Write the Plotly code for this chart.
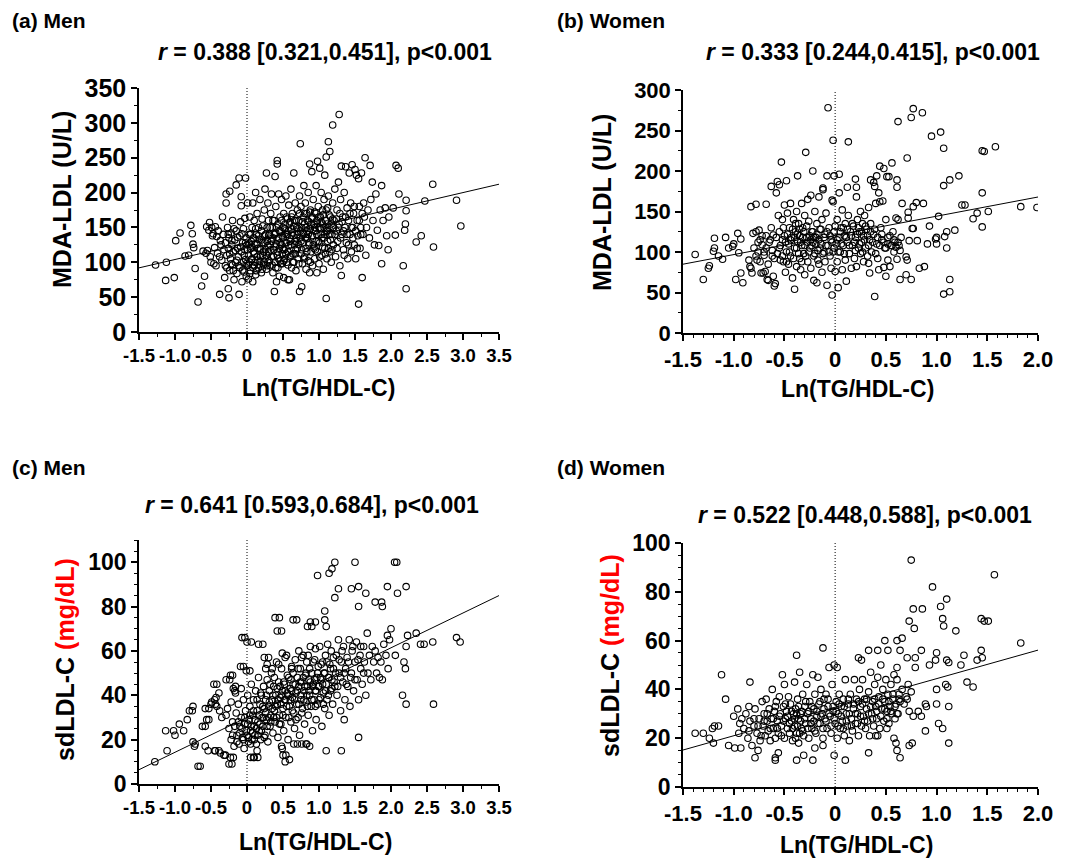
import plotly.graph_objects as go

# ---------------- DATA ----------------
# (a) Men: Ln(TG/HDL-C) vs MDA-LDL (U/L)
a_pts = [(-1.27,96),(-1.13,74),(-1.12,100),(-1.01,78),(-0.99,131),(-0.93,142),(-0.86,109),(-0.81,110),(-0.78,153),(-0.76,141),(-0.75,126),(-0.74,121),(-0.72,91),(-0.68,43),(-0.63,66),(-0.61,116),(-0.59,80),
(-0.57,113),(-0.56,151),(-0.55,117),(-0.53,146),(-0.52,157),(-0.51,108),(-0.50,100),(-0.49,150),(-0.48,138),(-0.47,141),(-0.46,98),(-0.45,121),(-0.44,151),(-0.43,95),(-0.42,137),(-0.41,113),(-0.40,145),(-0.38,54),(-0.38,108),(-0.37,131),(-0.36,125),(-0.35,103),(-0.34,165),(-0.33,140),(-0.32,118),(-0.31,78),(-0.30,95),(-0.30,128),
(-0.29,198),(-0.29,185),(-0.28,110),(-0.27,150),(-0.26,62),(-0.26,120),(-0.25,49),(-0.25,135),(-0.24,202),(-0.24,88),(-0.23,105),(-0.22,142),(-0.21,125),(-0.20,96),(-0.20,160),(-0.19,115),(-0.18,75),(-0.17,132),(-0.16,100),(-0.15,211),(-0.15,145),(-0.14,84),(-0.13,120),(-0.12,108),(-0.11,221),(-0.11,54),(-0.10,138),(-0.10,92),(-0.09,158),(-0.08,194),(-0.08,181),(-0.08,115),(-0.07,72),(-0.06,128),(-0.05,100),(-0.05,148),(-0.04,86),(-0.03,118),(-0.03,163),(-0.02,221),(-0.02,104),(-0.01,80),(-0.01,135),(0.0,95),(0.0,125),
(0.01,185),(0.02,110),(0.02,76),(0.03,140),(0.04,100),(0.04,165),(0.05,120),(0.05,88),(0.06,130),(0.07,105),(0.07,150),(0.08,72),(0.08,185),(0.09,115),(0.10,95),(0.10,160),(0.11,125),(0.12,200),(0.12,82),(0.13,140),(0.14,108),(0.14,170),(0.15,120),(0.16,92),(0.16,150),(0.17,133),(0.18,101),(0.18,190),(0.19,118),(0.20,85),(0.20,145),(0.21,162),(0.22,110),(0.22,128),(0.23,96),(0.24,175),(0.24,138),(0.25,105),(0.25,205),(0.26,118),(0.27,228),(0.27,90),(0.28,150),(0.28,130),(0.29,100),(0.29,185),(0.30,115),(0.30,160),
(0.31,140),(0.32,95),(0.32,125),(0.33,170),(0.34,108),(0.34,198),(0.35,150),(0.36,85),(0.36,135),(0.37,118),(0.38,58),(0.38,160),(0.39,223),(0.39,100),(0.40,142),(0.40,180),(0.41,72),(0.41,126),(0.42,246),(0.42,241),(0.42,110),(0.43,155),(0.43,92),(0.44,198),(0.44,135),(0.45,120),(0.45,80),(0.46,165),(0.46,102),(0.47,145),(0.48,125),(0.48,190),(0.49,98),(0.49,112),(0.50,150),(0.50,135),(0.51,78),(0.51,170),(0.52,118),(0.52,105),(0.53,155),(0.54,140),(0.54,195),(0.55,100),(0.55,128),(0.56,162),(0.57,115),(0.57,75),(0.58,145),(0.58,182),(0.59,135),(0.59,75),(0.60,108),(0.60,158),
(0.61,205),(0.61,125),(0.62,92),(0.62,148),(0.63,170),(0.64,112),(0.64,138),(0.65,228),(0.65,100),(0.66,160),(0.67,130),(0.67,185),(0.68,118),(0.68,88),(0.69,150),(0.70,140),(0.70,175),(0.71,105),(0.72,160),(0.72,125),(0.73,58),(0.73,195),(0.74,270),(0.74,135),(0.75,112),(0.75,180),(0.76,150),(0.76,65),(0.77,98),(0.78,165),(0.78,128),(0.79,210),(0.79,140),(0.80,108),(0.80,155),(0.81,185),(0.82,120),(0.82,90),(0.83,170),(0.83,145),(0.84,135),(0.85,200),(0.85,102),(0.86,158),(0.86,125),(0.87,241),(0.87,85),(0.88,175),(0.88,148),(0.89,115),(0.90,230),(0.90,162),
(0.91,138),(0.91,95),(0.92,190),(0.93,155),(0.93,120),(0.94,172),(0.94,105),(0.95,145),(0.96,210),(0.96,130),(0.97,160),(0.97,85),(0.98,245),(0.98,115),(0.99,180),(1.00,150),(1.00,98),(1.01,235),(1.01,128),(1.02,165),(1.03,140),(1.03,200),(1.04,110),(1.05,175),(1.05,155),(1.06,90),(1.07,135),(1.07,190),(1.08,225),(1.08,120),(1.09,160),(1.10,251),(1.10,48),(1.10,145),(1.11,105),(1.12,178),(1.12,130),(1.13,273),(1.13,195),(1.14,150),(1.15,259),(1.15,115),(1.16,165),(1.17,100),(1.18,140),(1.19,297),(1.19,185),(1.20,125),
(1.21,160),(1.22,205),(1.23,108),(1.24,145),(1.25,175),(1.26,130),(1.27,215),(1.28,312),(1.28,155),(1.29,95),(1.30,190),(1.31,238),(1.31,81),(1.32,140),(1.33,165),(1.34,118),(1.35,200),(1.36,150),(1.37,237),(1.38,128),(1.39,178),(1.40,105),(1.41,160),(1.42,228),(1.43,140),(1.44,185),(1.45,115),(1.46,240),(1.47,150),(1.48,170),(1.49,125),(1.50,233),
(1.51,105),(1.52,225),(1.53,160),(1.54,138),(1.55,40),(1.55,220),(1.56,180),(1.57,120),(1.58,150),(1.59,228),(1.60,78),(1.61,140),(1.62,185),(1.63,165),(1.64,250),(1.65,110),(1.66,150),(1.68,175),(1.70,135),(1.71,239),(1.72,190),(1.74,215),(1.75,160),(1.77,125),(1.79,198),(1.81,146),(1.83,124),(1.85,175),(1.87,210),(1.87,98),(1.89,160),(1.92,178),(1.94,138),(1.96,118),(1.97,165),
(2.03,178),(2.06,139),(2.07,239),(2.10,235),(2.11,198),(2.17,95),(2.19,146),(2.20,155),(2.21,189),(2.21,174),(2.21,62),(2.35,129),(2.42,138),(2.47,188),(2.58,212),(2.59,122),(2.91,189),(2.97,152)]
a_core = [(-0.28,92),(-0.26,140),(-0.24,112),(-0.22,98),(-0.21,131),(-0.19,88),(-0.18,148),(-0.16,117),(-0.14,103),(-0.13,136),(-0.11,95),(-0.09,122),(-0.07,141),(-0.06,89),(-0.04,110),(-0.02,128),(-0.01,98),(0.01,118),(0.02,96),(0.03,126),(0.04,84),(0.05,140),(0.06,104),(0.07,122),(0.08,93),(0.09,135),(0.10,112),(0.11,100),(0.12,148),(0.13,88),(0.14,126),(0.15,103),(0.16,138),(0.17,96),(0.18,120),(0.19,108),(0.20,132),(0.21,90),(0.22,152),(0.23,115),(0.24,100),(0.25,128),(0.26,140),(0.27,110),(0.28,95),(0.29,124),(0.30,138),(0.31,102),(0.32,150),(0.33,118),(0.34,130),(0.35,96),(0.36,160),(0.37,108),(0.38,140),(0.39,122),(0.40,92),(0.41,150),(0.42,132),(0.43,115),(0.44,105),(0.45,145),(0.46,128),(0.47,98),(0.48,160),(0.49,138),(0.50,118),(0.51,102),(0.52,148),(0.53,128),(0.54,112),(0.55,165),(0.56,140),(0.57,96),(0.58,124),(0.59,155),(0.60,130),(0.61,110),(0.62,165),(0.63,142),(0.64,100),(0.65,152),(0.66,125),(0.67,112),(0.68,160),(0.69,135),(0.70,120),(0.71,148),(0.72,98),(0.73,170),(0.74,145),(0.75,130),(0.76,118),(0.77,158),(0.78,142),(0.79,105),(0.80,170),(0.81,135),(0.82,150),(0.83,115),(0.84,160),(0.85,140),(0.86,128),(0.87,172),(0.88,100),(0.89,155),(0.90,138),(0.91,165),(0.92,125),(0.93,145),(0.94,150),(0.95,118),(0.96,170),(0.97,140),(0.98,155),(0.99,130),(1.00,165),(1.01,108),(1.02,148),(1.03,158),(1.04,135),(1.05,122),(1.06,168),(1.07,150),(1.08,140),(1.09,112),(1.10,175),(1.11,155),(1.12,145),(1.13,120),(1.14,168),(1.15,140),(1.16,132),(1.17,155),(1.18,118),(1.19,162),(1.20,150),(1.22,140),(1.24,162),(1.25,120),(1.27,150),(1.29,170),(1.30,135),(1.32,158),(1.34,145),(1.35,110),(1.37,165),(1.39,140),(1.41,125),(1.43,170),(1.45,150),(1.47,135),(1.49,180),(1.51,145),(1.53,120),(1.56,160),(1.58,140),(1.60,170)]

# (b) Women: Ln(TG/HDL-C) vs MDA-LDL (U/L)
b_pts = [(-1.38,97),(-1.30,66),(-1.25,80),(-1.24,83),(-1.19,117),(-1.20,101),(-1.19,105),(-1.15,95),(-1.11,91),(-1.08,118),(-1.05,105),(-1.01,107),(-1.00,110),(-0.98,66),(-0.96,123),
(-0.95,99),(-0.93,116),(-0.93,74),(-0.91,62),(-0.85,90),(-0.84,82),(-0.83,156),(-0.83,80),(-0.82,74),(-0.81,123),(-0.78,159),(-0.78,125),(-0.77,90),(-0.76,100),(-0.75,127),(-0.74,115),(-0.73,74),(-0.72,109),(-0.71,74),(-0.70,100),(-0.69,76),(-0.68,159),(-0.68,120),(-0.67,66),(-0.66,65),(-0.65,112),(-0.63,181),(-0.63,130),(-0.62,95),(-0.61,70),(-0.61,121),(-0.60,58),(-0.59,61),
(-0.58,173),(-0.57,187),(-0.56,145),(-0.55,183),(-0.55,105),(-0.54,90),(-0.53,211),(-0.52,115),(-0.52,140),(-0.51,88),(-0.50,158),(-0.50,120),(-0.49,75),(-0.48,188),(-0.48,100),(-0.47,148),(-0.46,110),(-0.46,85),(-0.45,130),(-0.44,160),(-0.44,95),(-0.43,118),(-0.42,68),(-0.41,140),(-0.40,54),(-0.40,105),(-0.39,125),(-0.38,150),(-0.38,82),(-0.37,194),(-0.37,113),(-0.36,135),(-0.35,92),(-0.35,120),(-0.34,78),(-0.33,160),(-0.33,108),(-0.32,130),(-0.31,98),(-0.30,145),(-0.30,72),
(-0.29,223),(-0.28,118),(-0.27,165),(-0.27,88),(-0.26,138),(-0.25,105),(-0.24,170),(-0.24,80),(-0.23,125),(-0.22,200),(-0.22,112),(-0.21,95),(-0.21,65),(-0.20,150),(-0.19,118),(-0.18,62),(-0.18,135),(-0.17,102),(-0.16,168),(-0.16,85),(-0.15,128),(-0.14,110),(-0.13,140),(-0.13,75),(-0.12,179),(-0.12,177),(-0.11,100),(-0.10,122),(-0.10,88),(-0.09,148),(-0.08,194),(-0.08,59),(-0.07,278),(-0.07,108),(-0.06,130),(-0.05,95),(-0.04,115),(-0.04,80),(-0.03,164),(-0.03,47),(-0.02,238),(-0.02,162),(-0.02,100),(-0.01,194),(-0.01,125),(0.0,76),
(0.01,110),(0.02,140),(0.02,88),(0.03,56),(0.04,196),(0.04,173),(0.04,118),(0.05,100),(0.06,130),(0.07,78),(0.07,152),(0.08,108),(0.09,120),(0.10,90),(0.10,135),(0.11,64),(0.12,180),(0.12,112),(0.13,236),(0.13,145),(0.14,98),(0.15,125),(0.16,80),(0.17,108),(0.18,132),(0.19,92),(0.20,190),(0.20,118),(0.21,180),(0.21,168),(0.21,82),(0.22,140),(0.23,105),(0.24,125),(0.25,150),(0.25,98),(0.26,112),(0.27,135),(0.28,88),(0.28,120),(0.29,145),(0.30,105),
(0.31,128),(0.32,95),(0.33,86),(0.33,155),(0.34,74),(0.34,115),(0.35,189),(0.35,135),(0.36,100),(0.38,186),(0.38,122),(0.39,181),(0.39,45),(0.40,160),(0.41,194),(0.41,110),(0.42,92),(0.43,173),(0.43,78),(0.44,206),(0.44,162),(0.45,130),(0.46,115),(0.47,163),(0.48,203),(0.48,81),(0.49,105),(0.50,70),(0.50,140),(0.51,193),(0.52,90),(0.52,118),(0.53,193),(0.54,82),(0.55,108),(0.56,210),(0.57,125),(0.58,100),(0.59,112),(0.60,142),
(0.61,189),(0.61,180),(0.61,91),(0.62,261),(0.62,140),(0.63,108),(0.64,66),(0.65,118),(0.66,160),(0.70,72),(0.70,94),(0.71,90),(0.71,216),(0.72,149),(0.72,142),(0.73,114),(0.75,266),(0.75,66),(0.76,129),(0.77,277),(0.77,156),(0.77,129),(0.80,161),(0.81,114),(0.83,80),(0.86,272),(0.87,160),(0.88,82),(0.91,110),(0.93,132),(0.95,243),
(0.99,116),(1.00,118),(1.00,110),(1.02,144),(1.04,248),(1.07,228),(1.07,182),(1.07,48),(1.08,119),(1.10,125),(1.10,105),(1.13,189),(1.13,66),(1.13,51),(1.18,127),(1.22,194),(1.25,158),(1.28,158),(1.36,141),(1.40,148),(1.45,225),(1.45,173),(1.45,131),(1.47,224),(1.51,150),(1.58,230),(1.83,156),(1.99,155)]
b_core = [(-0.80,105),(-0.78,95),(-0.76,112),(-0.74,88),(-0.72,120),(-0.70,96),(-0.68,105),(-0.66,85),(-0.64,115),(-0.62,102),(-0.60,92),(-0.58,118),(-0.57,98),(-0.55,125),(-0.54,108),(-0.52,95),(-0.51,130),(-0.49,112),(-0.48,88),(-0.47,122),(-0.45,100),(-0.44,115),(-0.42,128),(-0.41,92),(-0.40,118),(-0.39,135),(-0.38,105),(-0.37,122),(-0.36,98),(-0.35,128),(-0.34,112),(-0.33,88),(-0.32,118),(-0.31,125),(-0.30,108),(-0.29,95),(-0.28,132),(-0.27,112),(-0.26,100),(-0.25,120),(-0.24,115),(-0.23,108),(-0.22,125),(-0.21,118),(-0.20,98),(-0.19,110),(-0.18,122),(-0.17,90),(-0.16,115),(-0.15,105),(-0.14,128),(-0.12,98),(-0.11,118),(-0.09,108),(-0.08,125),(-0.06,100),(-0.05,120),(-0.03,112),(-0.01,105),(0.0,132),(0.02,115),(0.03,100),(0.05,125),(0.06,110),(0.08,130),(0.09,98),(0.11,118),(0.12,128),(0.14,108),(0.16,120),(0.17,135),(0.19,112),(0.20,102),(0.22,122),(0.23,130),(0.24,110),(0.26,125),(0.27,100),(0.29,115),(0.30,132),(0.32,120),(0.33,108),(0.35,125),(0.37,112),(0.39,128),(0.40,98),(0.42,118),(0.44,108),(0.46,122),(0.48,112),(0.50,105),(0.52,110),(0.54,120),(0.56,108),(0.58,115),(0.60,106),(0.62,112),(0.64,102)]

# (c) Men: Ln(TG/HDL-C) vs sdLDL-C (mg/dL)
c_pts = [(-1.28,10),(-1.11,15),(-1.13,24),(-1.02,24),(-1.0,22),(-0.94,27),(-0.88,24),(-0.83,29),(-0.80,33),(-0.75,35),(-0.76,33),(-0.75,19),(-0.73,17),(-0.68,8),(-0.62,26),(-0.58,17),(-0.56,29),(-0.53,29),(-0.58,34),(-0.50,36),(-0.46,45),(-0.45,38),(-0.45,15),(-0.39,41),(-0.42,35),(-0.37,14),(-0.29,47),(-0.23,49),(-0.25,9),(-0.23,12),(-0.19,43),(-0.16,41),(-0.09,53),(-0.07,66),(0.0,64),(-0.01,51),(-0.08,43),(0.16,63),(0.05,12),(0.10,12),(0.14,15),(0.24,57),(0.26,52),(0.39,75),(0.42,69),(0.64,74),(0.53,10),(0.50,13),(0.48,17),(0.65,18),(0.76,18),(0.82,18),(0.84,71),(0.88,73),(0.98,94),(1.14,95),(1.18,97),(1.22,100),(1.27,88),(1.22,84),(1.08,78),(1.08,74),(1.10,71),(1.10,15),(1.31,15),(1.50,100),(1.45,88),(1.55,89),(1.55,80),(1.65,86),(1.78,82),(1.87,82),(1.88,80),(2.05,100),(2.08,100),(2.09,86),(1.95,89),(2.21,89),(2.0,70),(1.95,67),(2.06,58),(2.18,55),(2.20,52),(2.23,67),(2.21,62),(2.35,68),(2.41,63),(2.46,63),(2.58,64),(2.91,66),(2.96,64),(2.16,40),(2.21,36),(2.59,36),(1.55,21),(1.35,29),
(-0.58,26),(-0.53,34),(-0.49,37),(-0.44,36),(-0.43,39),(-0.38,33),(-0.35,30),(-0.29,31),(-0.27,34),(-0.22,37),(-0.17,42),(-0.16,44),(-0.42,45),(-0.24,47),(-0.20,49),(-0.05,53),(0.04,51),(-0.03,66),(0.06,64),(0.22,63),(0.45,75),(0.69,74),(0.90,71),(0.95,73),(0.48,69),(0.30,57),(0.28,54),(0.35,52),(0.44,54),(0.49,59),(0.53,57),(0.62,53),(0.72,60),(0.76,57),(0.85,58),(0.95,61),(-0.65,8),(-0.21,9),(-0.30,13),(-0.19,12),(0.09,12),(0.15,12),(0.49,16),(0.54,13),(0.59,11),(0.70,18),(0.83,18),(0.87,17),(-0.72,18),(-0.54,15),(-0.44,15),(-0.39,15),(-0.32,13),
(-0.25,25),(-0.22,20),(-0.20,28),(-0.18,17),(-0.15,32),(-0.14,22),(-0.12,36),(-0.11,18),(-0.10,26),(-0.08,30),(-0.06,21),(-0.05,38),(-0.04,16),(-0.03,27),(-0.02,33),(0.0,22),(0.01,40),(0.02,19),(0.03,29),(0.04,35),(0.05,24),(0.06,45),(0.07,20),(0.08,31),(0.09,38),(0.10,26),(0.11,22),(0.12,42),(0.13,18),(0.14,33),(0.15,28),(0.16,48),(0.17,24),(0.18,36),(0.19,20),(0.20,40),(0.21,30),(0.22,26),(0.23,44),(0.24,34),(0.25,22),(0.26,38),(0.27,29),(0.28,47),(0.29,19),(0.30,35),(0.31,42),(0.32,26),(0.33,31),(0.34,50),(0.35,38),(0.36,23),(0.37,44),(0.38,33),(0.39,28),(0.40,40),(0.41,55),(0.42,36),(0.43,21),(0.44,46),(0.45,31),(0.46,39),(0.47,27),(0.48,52),(0.49,42),(0.50,34),(0.51,24),(0.52,45),(0.53,38),(0.54,30),(0.55,58),(0.56,41),(0.57,20),(0.58,48),(0.59,35),(0.60,43),(0.61,28),(0.62,52),(0.63,39),(0.64,45),(0.65,32),(0.66,25),(0.67,56),(0.68,41),(0.69,36),(0.70,48),(0.71,30),(0.72,44),(0.73,22),(0.74,52),(0.75,38),(0.76,46),(0.77,34),(0.78,58),(0.79,42),(0.80,27),(0.81,49),(0.82,37),(0.83,55),(0.84,44),(0.85,31),(0.86,47),(0.87,40),(0.88,62),(0.89,35),(0.90,50),(0.91,24),(0.92,45),(0.93,38),(0.94,56),(0.95,42),(0.96,29),(0.97,48),(0.98,36),(0.99,53),(1.00,44),(1.01,62),(1.02,39),(1.03,47),(1.04,26),(1.05,55),(1.06,41),(1.07,50),(1.08,34),(1.09,58),(1.10,45),(1.11,38),(1.12,63),(1.13,48),(1.14,31),(1.15,54),(1.16,42),(1.17,60),(1.18,47),(1.19,36),(1.20,52),(1.22,44),(1.24,58),(1.25,40),(1.27,65),(1.28,50),(1.30,33),(1.31,55),(1.33,46),(1.34,62),(1.36,38),(1.37,52),(1.39,57),(1.40,44),(1.42,65),(1.43,35),(1.45,50),(1.46,60),(1.48,42),(1.50,55),(1.52,64),(1.53,47),(1.55,38),(1.57,58),(1.58,52),(1.60,45),(1.62,62),(1.63,55),(1.65,40),(1.67,68),(1.68,50),(1.70,58),(1.72,47),(1.74,62),(1.76,55),(1.78,60),(1.80,50),(1.82,57),(1.84,48),(1.86,55),(1.88,47),(1.90,63),(1.93,58),(1.96,52),(1.98,65)]
c_core = [(-0.20,22),(-0.17,26),(-0.14,19),(-0.12,28),(-0.10,23),(-0.07,25),(-0.05,20),(-0.03,30),(-0.01,24),(0.01,27),(0.02,21),(0.04,31),(0.05,18),(0.06,26),(0.08,23),(0.09,33),(0.10,20),(0.11,29),(0.13,25),(0.14,38),(0.15,22),(0.17,31),(0.18,27),(0.19,41),(0.20,24),(0.22,35),(0.23,30),(0.24,21),(0.26,32),(0.27,40),(0.28,26),(0.30,30),(0.31,37),(0.32,45),(0.33,28),(0.35,34),(0.36,40),(0.37,30),(0.38,48),(0.40,35),(0.41,30),(0.42,43),(0.43,38),(0.45,27),(0.46,44),(0.47,36),(0.48,40),(0.50,31),(0.51,46),(0.52,38),(0.53,42),(0.55,35),(0.56,49),(0.57,40),(0.58,30),(0.60,38),(0.61,47),(0.62,42),(0.63,33),(0.64,50),(0.66,38),(0.67,45),(0.68,29),(0.70,42),(0.71,52),(0.72,36),(0.74,46),(0.75,40),(0.76,32),(0.78,48),(0.79,38),(0.80,44),(0.82,50),(0.83,40),(0.84,35),(0.86,42),(0.87,52),(0.88,46),(0.90,38),(0.91,44),(0.92,55),(0.94,47),(0.95,35),(0.96,42),(0.98,50),(0.99,44),(1.00,38),(1.02,48),(1.03,54),(1.05,45),(1.06,36),(1.08,50),(1.09,42),(1.11,55),(1.13,40),(1.14,48),(1.16,52),(1.18,43),(1.20,57),(1.21,46),(1.23,50),(1.26,44),(1.28,56),(1.30,48),(1.32,60),(1.35,50),(1.38,45),(1.41,55),(1.44,48),(1.47,62),(1.50,47),(1.54,56),(1.58,62),(1.62,50)]

# (d) Women: Ln(TG/HDL-C) vs sdLDL-C (mg/dL)
d_pts = [(0.75,93),(1.57,87),(0.96,82),(1.10,77),(1.04,74),(0.77,73),(0.86,73),(0.73,68),(0.78,65),(1.06,69),(1.07,66),(1.19,64),(1.44,69),(1.47,68),(1.51,68),(1.83,59),(1.44,56),(1.45,53),(1.40,52),(1.27,54),(1.24,50),(1.10,52),(1.12,51),(1.00,55),(0.99,52),(0.93,50),(0.85,56),(0.79,53),(0.79,49),(0.71,53),(0.66,61),(0.64,56),(0.61,60),(0.61,49),(0.49,60),(0.52,56),(0.42,56),(0.33,56),(0.23,53),(0.26,52),(-0.12,57),(-0.38,54),(-1.12,46),(-1.08,36),(-0.84,43),(-0.85,33),(-0.96,32),(-1.0,29),(-0.92,28),(-0.94,26),(-1.15,25),(-1.19,25),(-1.21,24),(-1.38,22),(-1.30,22),(-1.24,20),(-1.20,18),(-1.05,17),(-0.99,16),(-0.93,16),(-0.95,22),(-0.79,12),(-0.76,15),(-0.59,12),(-0.59,11),(-0.56,14),(-0.38,11),(-0.31,13),(-0.22,11),(-0.20,16),(-0.12,17),(-0.01,13),(0.10,11),(0.33,14),(0.40,21),(0.42,21),(0.51,24),(0.58,20),(0.60,18),(0.61,15),(0.64,12),(0.73,17),(0.76,18),(0.89,23),(1.12,18),(1.06,24),(1.02,26),(1.00,34),(1.12,33),(0.89,34),(0.90,33),(1.00,40),(1.09,42),(1.11,41),(1.30,43),(1.36,41),(0.82,31),(0.85,29),(0.73,31),(0.77,29),(0.71,36),(0.75,39),(0.72,42),
(-0.90,24),(-0.88,30),(-0.86,20),(-0.84,27),(-0.82,17),(-0.80,25),(-0.79,32),(-0.77,22),(-0.75,28),(-0.74,19),(-0.72,35),(-0.71,25),(-0.70,30),(-0.69,21),(-0.68,36),(-0.67,27),(-0.66,23),(-0.65,32),(-0.64,19),(-0.63,28),(-0.62,40),(-0.61,24),(-0.60,31),(-0.59,20),(-0.58,35),(-0.57,27),(-0.56,22),(-0.55,37),(-0.54,30),(-0.53,25),(-0.52,46),(-0.51,33),(-0.50,20),(-0.50,42),(-0.49,28),(-0.48,31),(-0.47,24),(-0.46,37),(-0.45,22),(-0.44,34),(-0.43,27),(-0.42,19),(-0.41,30),(-0.40,43),(-0.40,25),(-0.39,32),(-0.38,22),(-0.37,36),(-0.36,28),(-0.36,18),(-0.35,47),(-0.34,30),(-0.33,24),(-0.32,38),(-0.31,21),(-0.30,33),(-0.29,26),(-0.28,42),(-0.27,30),(-0.26,20),(-0.25,35),(-0.24,28),(-0.23,24),(-0.22,46),(-0.21,32),(-0.20,38),(-0.19,22),(-0.18,29),(-0.17,45),(-0.16,34),(-0.15,26),(-0.14,40),(-0.13,30),(-0.12,20),(-0.11,36),(-0.10,28),(-0.09,38),(-0.08,24),(-0.07,33),(-0.06,49),(-0.05,29),(-0.04,22),(-0.03,42),(-0.02,31),(-0.01,50),(0.0,26),(0.01,35),(0.02,49),(0.02,20),(0.03,30),(0.04,38),(0.05,24),(0.06,33),(0.07,27),(0.08,36),(0.09,21),(0.10,44),(0.11,30),(0.12,25),(0.13,34),(0.14,19),(0.15,38),(0.16,28),(0.17,23),(0.18,32),(0.19,44),(0.20,26),(0.21,36),(0.22,30),(0.23,21),(0.24,40),(0.25,33),(0.26,25),(0.27,44),(0.28,29),(0.29,36),(0.30,24),(0.31,32),(0.32,27),(0.33,39),(0.34,21),(0.35,47),(0.36,30),(0.37,35),(0.38,25),(0.39,42),(0.40,33),(0.41,28),(0.42,45),(0.43,37),(0.44,24),(0.45,50),(0.46,32),(0.47,40),(0.48,27),(0.49,35),(0.50,44),(0.51,31),(0.52,38),(0.53,26),(0.54,33),(0.55,42),(0.56,30),(0.57,36),(0.58,46),(0.59,28),(0.60,34),(0.61,44),(0.62,30),(0.63,38),(0.64,35),(0.66,40),(0.68,34),(0.70,37)]
d_core = [(-0.85,23),(-0.80,28),(-0.76,25),(-0.73,21),(-0.70,27),(-0.67,30),(-0.64,24),(-0.61,28),(-0.59,33),(-0.57,24),(-0.55,29),(-0.53,21),(-0.51,27),(-0.49,34),(-0.47,29),(-0.45,26),(-0.43,31),(-0.42,24),(-0.40,28),(-0.39,20),(-0.38,30),(-0.37,25),(-0.36,33),(-0.35,22),(-0.34,27),(-0.33,31),(-0.32,23),(-0.30,28),(-0.29,35),(-0.27,24),(-0.26,31),(-0.24,26),(-0.23,33),(-0.21,27),(-0.20,23),(-0.18,31),(-0.17,26),(-0.15,35),(-0.14,29),(-0.12,24),(-0.11,32),(-0.09,27),(-0.07,36),(-0.06,30),(-0.04,25),(-0.02,33),(-0.01,28),(0.01,31),(0.03,25),(0.04,34),(0.06,29),(0.08,24),(0.09,33),(0.11,27),(0.13,36),(0.14,30),(0.16,25),(0.18,34),(0.20,30),(0.22,26),(0.23,35),(0.25,29),(0.27,34),(0.29,27),(0.31,36),(0.33,30),(0.35,33),(0.37,28),(0.39,36),(0.41,31),(0.43,34),(0.45,29),(0.47,36),(0.49,32),(0.51,28),(0.53,35),(0.55,31),(0.57,38),(0.59,33),(0.61,30),(0.63,36)]

# regression lines (intercept, slope)
a_fit = (128.0, 24.0)
b_fit = (120.5, 23.7)
c_fit = (30.0, 15.7)
d_fit = (32.7, 11.7)

men_xrange = [-1.5, 3.5]
women_xrange = [-1.5, 2.0]
men_xticks = [-1.5, -1.0, -0.5, 0, 0.5, 1.0, 1.5, 2.0, 2.5, 3.0, 3.5]
men_xlabels = ["-1.5", "-1.0", "-0.5", "0", "0.5", "1.0", "1.5", "2.0", "2.5", "3.0", "3.5"]
women_xticks = [-1.5, -1.0, -0.5, 0, 0.5, 1.0, 1.5, 2.0]
women_xlabels = ["-1.5", "-1.0", "-0.5", "0", "0.5", "1.0", "1.5", "2.0"]

panel_labels = ["(a) Men", "(b) Women", "(c) Men", "(d) Women"]
stat_texts = ["<i>r</i> = 0.388 [0.321,0.451], p&lt;0.001",
              "<i>r</i> = 0.333 [0.244,0.415], p&lt;0.001",
              "<i>r</i> = 0.641 [0.593,0.684], p&lt;0.001",
              "<i>r</i> = 0.522 [0.448,0.588], p&lt;0.001"]
y_titles = ["MDA-LDL (U/L)", "MDA-LDL (U/L)",
            "sdLDL-C <span style='color:#ff0000'>(mg/dL)</span>",
            "sdLDL-C <span style='color:#ff0000'>(mg/dL)</span>"]
x_title = "Ln(TG/HDL-C)"

# ---------------- FIGURE ----------------
# the page body has an 8px margin: the figure starts 8px in, so it is made
# 16px narrower and 8px shorter (reaching the bottom of the 858px window)
PAGE_W, PAGE_H, BODY = 1068, 858, 8
W, H = PAGE_W - 2 * BODY, PAGE_H - BODY
FONT = "Liberation Sans, Arial, Helvetica, sans-serif"

def fx(p):
    return (p - BODY) / W

def fy(p):
    return 1 - (p - BODY) / H

fig = go.Figure()

panels = [
    dict(pts=a_pts + a_core, fit=a_fit, xr=men_xrange, yr=[0, 350], ydt=50, ymin=25, xdt=0.25,
         xt=men_xticks, xl=men_xlabels, xd=[139, 499], yd=[88, 332], ytf=25, xtf=18.5),
    dict(pts=b_pts + b_core, fit=b_fit, xr=women_xrange, yr=[0, 300], ydt=50, ymin=25, xdt=0.1,
         xt=women_xticks, xl=women_xlabels, xd=[683, 1038], yd=[90, 333], ytf=22, xtf=22),
    dict(pts=c_pts + c_core, fit=c_fit, xr=men_xrange, yr=[0, 110], ydt=20, ymin=5, xdt=0.25,
         xt=men_xticks, xl=men_xlabels, xd=[139, 499], yd=[540, 784], ytf=23, xtf=18.5),
    dict(pts=d_pts + d_core, fit=d_fit, xr=women_xrange, yr=[0, 100], ydt=20, ymin=5, xdt=0.1,
         xt=women_xticks, xl=women_xlabels, xd=[683, 1038], yd=[543, 787], ytf=23, xtf=22),
]

for i, p in enumerate(panels):
    n = "" if i == 0 else str(i + 1)
    xa, ya = "x" + n, "y" + n
    xs = [q[0] for q in p["pts"]]
    ys = [q[1] for q in p["pts"]]
    fig.add_trace(go.Scatter(x=xs, y=ys, mode="markers", xaxis=xa, yaxis=ya,
                             marker=dict(symbol="circle-open", size=6.5, color="black",
                                         line=dict(width=1.1, color="black")),
                             showlegend=False, hoverinfo="x+y"))
    b0, b1 = p["fit"]
    lx = p["xr"]
    fig.add_trace(go.Scatter(x=lx, y=[b0 + b1 * v for v in lx], mode="lines",
                             xaxis=xa, yaxis=ya, line=dict(color="black", width=1),
                             showlegend=False, hoverinfo="skip"))
    # dotted reference line at x = 0
    fig.add_shape(type="line", xref=xa, yref=ya, x0=0, x1=0, y0=p["yr"][0], y1=p["yr"][1],
                  line=dict(color="black", width=1, dash="1px,2px"))

    fig.update_layout(**{
        ("xaxis" + n): dict(
            domain=[fx(p["xd"][0]), fx(p["xd"][1])], range=p["xr"], anchor=ya,
            automargin=False, tickangle=0,
            showline=True, linecolor="black", linewidth=1.5, showgrid=False, zeroline=False,
            ticks="outside", ticklen=6, tickwidth=1.5, tickcolor="black",
            tickvals=p["xt"], ticktext=p["xl"],
            tickfont=dict(family=FONT, size=p["xtf"], color="black", weight="bold"),
            minor=dict(ticks="outside", dtick=p["xdt"], ticklen=3, tickwidth=1, tickcolor="black"),
        ),
        ("yaxis" + n): dict(
            domain=[fy(p["yd"][1]), fy(p["yd"][0])], range=p["yr"], anchor=xa,
            automargin=False,
            showline=True, linecolor="black", linewidth=1.5, showgrid=False, zeroline=False,
            ticks="outside", ticklen=6, tickwidth=1.5, tickcolor="black",
            tick0=0, dtick=p["ydt"],
            tickfont=dict(family=FONT, size=p["ytf"], color="black", weight="bold"),
            minor=dict(ticks="outside", dtick=p["ymin"], ticklen=3, tickwidth=1, tickcolor="black"),
        ),
    })

# texts (positions in pixels of the page)
label_pos = [(10, 20), (555, 20), (10, 467), (555, 467)]
stat_pos = [(325, 52), (873, 52), (312, 505), (865, 515)]
ytitle_pos = [(62, 200), (602, 203), (65, 660), (610, 656)]
xtitle_pos = [(318, 388), (857, 389), (315, 842), (856, 845)]

ann = []
for i in range(4):
    ann.append(dict(text=panel_labels[i], x=fx(label_pos[i][0]), y=fy(label_pos[i][1]),
                    xref="paper", yref="paper", xanchor="left", yanchor="middle", showarrow=False,
                    font=dict(family=FONT, size=21, color="black", weight="bold")))
    ann.append(dict(text=stat_texts[i], x=fx(stat_pos[i][0]), y=fy(stat_pos[i][1]),
                    xref="paper", yref="paper", xanchor="center", yanchor="middle", showarrow=False,
                    font=dict(family=FONT, size=23, color="black", weight="bold")))
    ann.append(dict(text=y_titles[i], x=fx(ytitle_pos[i][0]), y=fy(ytitle_pos[i][1]),
                    xref="paper", yref="paper", xanchor="center", yanchor="middle", showarrow=False,
                    textangle=-90,
                    font=dict(family=FONT, size=25, color="black", weight="bold")))
    ann.append(dict(text=x_title, x=fx(xtitle_pos[i][0]), y=fy(xtitle_pos[i][1]),
                    xref="paper", yref="paper", xanchor="center", yanchor="middle", showarrow=False,
                    font=dict(family=FONT, size=23, color="black", weight="bold")))

fig.update_layout(width=W, height=H, margin=dict(l=0, r=0, t=0, b=0, pad=0),
                  paper_bgcolor="white", plot_bgcolor="white", annotations=ann,
                  font=dict(family=FONT, color="black"))

fig.write_html("out.html")
